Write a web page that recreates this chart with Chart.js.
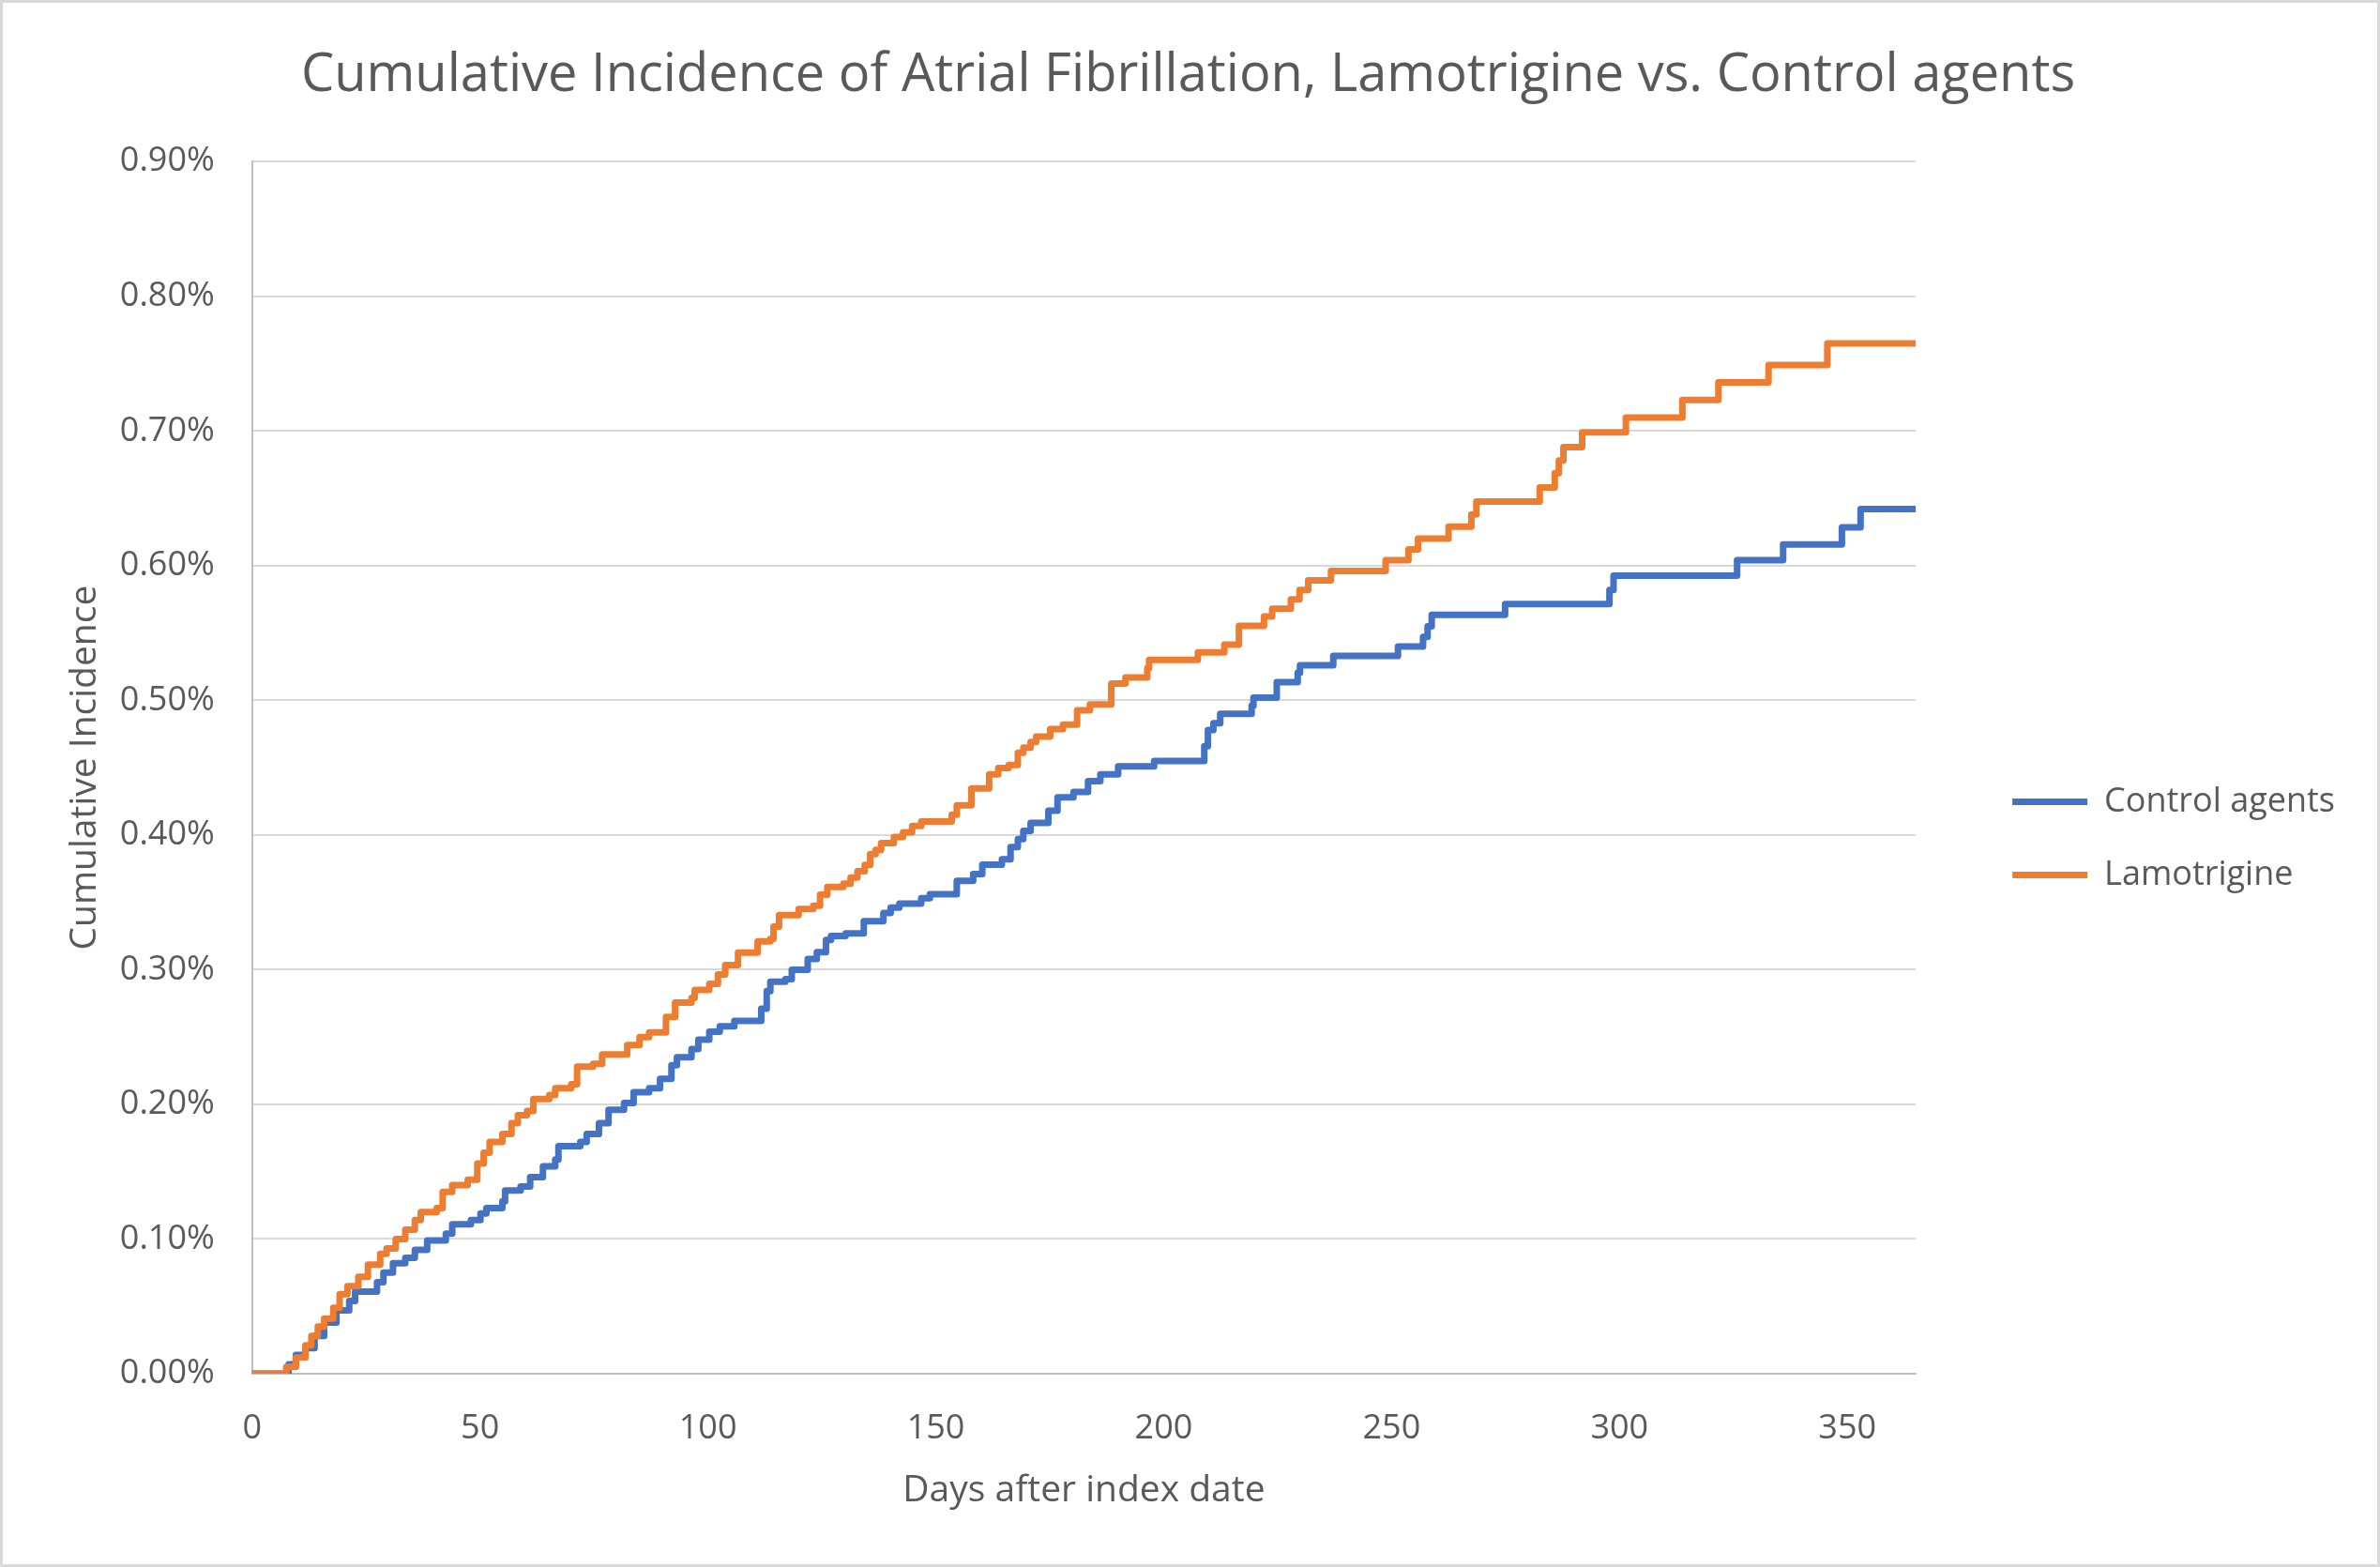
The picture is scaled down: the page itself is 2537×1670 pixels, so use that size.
<!DOCTYPE html>
<html>
<head>
<meta charset="utf-8">
<title>Cumulative Incidence of Atrial Fibrillation</title>
<script src="https://cdn.jsdelivr.net/npm/chart.js@4.4.1/dist/chart.umd.min.js"></script>
<style>
  html, body { margin: 0; padding: 0; background: #ffffff; }
  canvas { display: block; }
</style>
</head>
<body>
<canvas id="afChart" width="2537" height="1670" style="width:2537px;height:1670px"></canvas>
<script>
// Chart text
const chartTitle = 'Cumulative Incidence of Atrial Fibrillation, Lamotrigine vs. Control agents';
const xTitle = 'Days after index date';
const yTitle = 'Cumulative Incidence';

// Control agents: day of each step and cumulative incidence (%) after it
const controlDays = [0, 8, 9.6, 11.7, 13.7, 15.8, 18.5, 21.3, 22.6, 27.4, 28.8, 30.9, 33.6, 35.7, 38.4,
  42.5, 43.9, 48.0, 50.1, 51.4, 54.9, 55.5, 58.9, 61.0, 63.8, 66.5, 67.2, 72.0, 73.4, 76.1, 78.2,
  81.6, 83.7, 87.1, 89.5, 92.0, 93.2, 96.4, 97.9, 100.3, 102.6, 105.8, 111.7, 112.9, 113.7, 117.0,
  118.4, 121.9, 123.9, 125.9, 127.0, 130.2, 134.2, 138.5, 140.1, 142.0, 146.8, 148.7, 154.6, 158.2,
  160.2, 164.5, 166.4, 168.0, 169.2, 170.8, 174.7, 176.7, 180.2, 183.4, 186.1, 190.0, 197.9, 208.9,
  209.7, 210.9, 212.4, 219.3, 219.7, 224.8, 229.4, 229.9, 237.2, 251.4, 256.9, 257.9, 258.8, 274.9,
  297.8, 298.7, 325.8, 335.9, 348.8, 352.9, 365];
const controlPct = [0, 0.007, 0.014, 0.019, 0.028, 0.038, 0.047, 0.054, 0.061, 0.068, 0.075, 0.082, 0.086, 0.092, 0.099,
  0.104, 0.111, 0.114, 0.119, 0.123, 0.128, 0.136, 0.139, 0.146, 0.154, 0.159, 0.169, 0.172, 0.178, 0.186, 0.196,
  0.201, 0.209, 0.212, 0.219, 0.229, 0.235, 0.241, 0.248, 0.254, 0.258, 0.262, 0.271, 0.284, 0.291, 0.293,
  0.300, 0.308, 0.313, 0.322, 0.325, 0.327, 0.336, 0.342, 0.346, 0.349, 0.353, 0.356, 0.366, 0.371,
  0.378, 0.382, 0.391, 0.397, 0.403, 0.409, 0.418, 0.428, 0.432, 0.440, 0.445, 0.451, 0.455, 0.466,
  0.478, 0.483, 0.490, 0.496, 0.502, 0.5135, 0.5205, 0.526, 0.533, 0.540, 0.547, 0.555, 0.5635, 0.5715,
  0.582, 0.5925, 0.604, 0.6157, 0.6285, 0.642, 0.642];

// Lamotrigine
const lamoDays = [0, 7.5, 9.6, 11.7, 13.0, 14.4, 15.8, 17.8, 19.2, 20.9, 23.3, 25.4, 28.1, 29.5, 31.5,
  33.6, 35.7, 37.0, 40.5, 41.8, 43.9, 47.3, 49.4, 50.8, 52.1, 54.9, 56.9, 58.3, 60.3, 61.7, 65.2,
  66.5, 70.0, 71.3, 74.8, 76.8, 82.3, 85.0, 87.1, 90.8, 92.8, 96.4, 97.1, 100.3, 102.2, 103.8, 106.6,
  110.9, 113.7, 114.4, 115.6, 119.9, 123.1, 124.6, 126.2, 129.7, 131.3, 132.8, 134.4, 135.6, 136.8,
  138.0, 140.8, 142.8, 144.8, 146.8, 153.5, 154.6, 157.8, 161.7, 163.7, 166.0, 168.0, 169.2, 170.8,
  172.0, 175.1, 177.9, 181.0, 183.8, 188.5, 191.6, 196.4, 196.8, 207.5, 213.3, 216.5, 222.0, 223.8,
  227.9, 229.8, 231.7, 236.7, 248.7, 253.7, 255.8, 262.5, 267.5, 268.6, 282.5, 285.8, 286.7, 287.7,
  291.8, 301.4, 313.8, 321.7, 332.7, 345.6, 365];
const lamoPct = [0, 0.005, 0.012, 0.021, 0.028, 0.035, 0.041, 0.049, 0.059, 0.065, 0.072, 0.081, 0.089, 0.093, 0.100,
  0.107, 0.114, 0.120, 0.123, 0.135, 0.140, 0.144, 0.156, 0.164, 0.172, 0.178, 0.186, 0.192, 0.195, 0.204, 0.207,
  0.212, 0.215, 0.228, 0.230, 0.237, 0.244, 0.250, 0.2535, 0.265, 0.2756, 0.279, 0.285, 0.2895, 0.2965, 0.3035, 0.3127,
  0.321, 0.323, 0.332, 0.3406, 0.345, 0.3475, 0.3557, 0.3615, 0.3638, 0.3684, 0.373, 0.3777, 0.3858, 0.389,
  0.394, 0.3986, 0.402, 0.4067, 0.410, 0.415, 0.422, 0.4346, 0.445, 0.4497, 0.452, 0.461, 0.4648, 0.469,
  0.473, 0.4787, 0.482, 0.4926, 0.497, 0.5124, 0.517, 0.524, 0.530, 0.5356, 0.5414, 0.5553, 0.5623, 0.568,
  0.575, 0.582, 0.589, 0.596, 0.604, 0.612, 0.620, 0.629, 0.638, 0.6475, 0.658, 0.6686, 0.678, 0.688,
  0.699, 0.710, 0.723, 0.736, 0.749, 0.765, 0.765];

// Axis range and ticks
const xMax = 365;
const xStep = 50;
const yMax = 0.9;
const yStep = 0.1;

const textColor = '#595959';
Chart.defaults.font.family = '"Open Sans", "Noto Sans", sans-serif';
Chart.defaults.color = textColor;

function toPoints(days, values) {
    return days.map((d, i) => ({ x: d, y: values[i] }));
}

// Light grey frame round the whole chart, like the spreadsheet chart area
const frameBorder = {
    id: 'frameBorder',
    afterDraw(chart) {
        const c = chart.ctx;
        c.save();
        c.strokeStyle = '#d9d9d9';
        c.lineWidth = 3;
        c.strokeRect(1.5, 1.5, chart.width - 3, chart.height - 3);
        c.restore();
    }
};

const ctx = document.getElementById('afChart').getContext('2d');
new Chart(ctx, {
    type: 'line',
    data: {
        datasets: [{
            label: 'Control agents',
            data: toPoints(controlDays, controlPct),
            borderColor: '#4472C4',
            backgroundColor: '#4472C4',
            borderWidth: 7,
            borderCapStyle: 'round',
            borderJoinStyle: 'round',
            pointRadius: 0,
            stepped: 'before',   // hold the old value, jump at the event day
            fill: false,
            order: 1
        }, {
            label: 'Lamotrigine',
            data: toPoints(lamoDays, lamoPct),
            borderColor: '#ED7D31',
            backgroundColor: '#ED7D31',
            borderWidth: 7,
            borderCapStyle: 'round',
            borderJoinStyle: 'round',
            pointRadius: 0,
            stepped: 'before',
            fill: false,
            order: 0
        }]
    },
    options: {
        responsive: false,
        devicePixelRatio: 1,
        animation: false,
        events: [],
        layout: { padding: { left: 34, right: 38, top: 0, bottom: 0 } },
        plugins: {
            title: {
                display: true,
                text: chartTitle,
                color: textColor,
                font: { size: 56, weight: 'normal' },
                padding: { top: 47, bottom: 58 }
            },
            legend: {
                position: 'right',
                align: 'start',
                title: { display: true, text: '', font: { size: 12 }, padding: { top: 0, bottom: 780 } },
                labels: {
                    usePointStyle: true,
                    pointStyle: 'line',
                    pointStyleWidth: 80,
                    padding: 42,
                    color: textColor,
                    font: { size: 36 },
                    sort: (a, b) => a.datasetIndex - b.datasetIndex
                }
            },
            tooltip: { enabled: false }
        },
        scales: {
            x: {
                type: 'linear',
                min: 0,
                max: xMax,
                ticks: { stepSize: xStep, includeBounds: false, padding: 37, color: textColor, font: { size: 36 } },
                grid: { display: false, drawTicks: false },
                border: { display: true, color: '#bfbfbf', width: 2 },
                title: { display: true, text: xTitle, color: textColor, font: { size: 39 }, padding: { top: -16, bottom: 58 } }
            },
            y: {
                min: 0,
                max: yMax,
                ticks: {
                    stepSize: yStep,
                    padding: 40,
                    color: textColor,
                    font: { size: 36 },
                    callback: v => v.toFixed(2) + '%'
                },
                grid: { color: '#d9d9d9', lineWidth: 2, drawTicks: false },
                border: { display: true, color: '#bfbfbf', width: 2 },
                title: { display: true, text: yTitle, color: textColor, font: { size: 39 }, padding: { top: 33, bottom: -26 } }
            },
            // empty axis that only keeps the gap between plot and legend
            gap: {
                type: 'linear',
                position: 'right',
                display: true,
                ticks: { display: false },
                grid: { display: false, drawTicks: false },
                border: { display: false },
                afterFit: s => { s.width = 61; }
            }
        }
    },
    plugins: [frameBorder]
});
</script>
</body>
</html>
